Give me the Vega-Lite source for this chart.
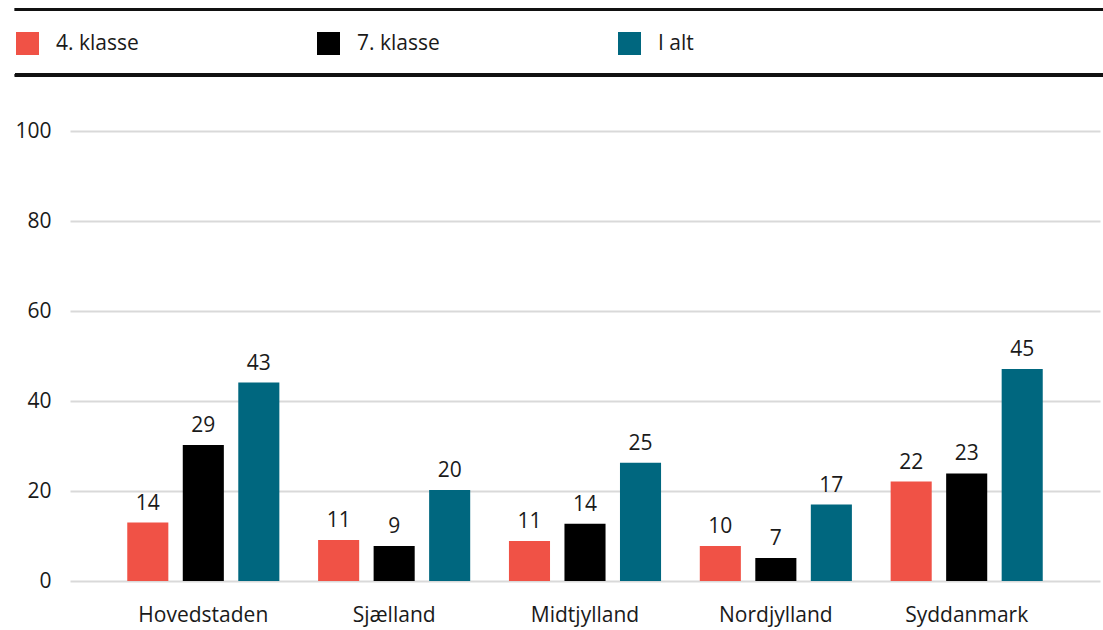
{
  "$schema": "https://vega.github.io/schema/vega-lite/v6.json",
  "width": 1030,
  "height": 450,
  "autosize": "none",
  "padding": {"left": 70, "top": 131, "right": 3, "bottom": 49},
  "background": "white",
  "config": {
    "font": "Open Sans",
    "view": {"stroke": null},
    "text": {"font": "Open Sans"}
  },
  "data": {
    "values": [
      {"Region": "Hovedstaden", "Klasse": "4. klasse", "value": 13.0, "label": "14"},
      {"Region": "Hovedstaden", "Klasse": "7. klasse", "value": 30.2, "label": "29"},
      {"Region": "Hovedstaden", "Klasse": "I alt", "value": 44.1, "label": "43"},
      {"Region": "Sjælland", "Klasse": "4. klasse", "value": 9.1, "label": "11"},
      {"Region": "Sjælland", "Klasse": "7. klasse", "value": 7.8, "label": "9"},
      {"Region": "Sjælland", "Klasse": "I alt", "value": 20.2, "label": "20"},
      {"Region": "Midtjylland", "Klasse": "4. klasse", "value": 8.9, "label": "11"},
      {"Region": "Midtjylland", "Klasse": "7. klasse", "value": 12.7, "label": "14"},
      {"Region": "Midtjylland", "Klasse": "I alt", "value": 26.3, "label": "25"},
      {"Region": "Nordjylland", "Klasse": "4. klasse", "value": 7.8, "label": "10"},
      {"Region": "Nordjylland", "Klasse": "7. klasse", "value": 5.1, "label": "7"},
      {"Region": "Nordjylland", "Klasse": "I alt", "value": 17.0, "label": "17"},
      {"Region": "Syddanmark", "Klasse": "4. klasse", "value": 22.1, "label": "22"},
      {"Region": "Syddanmark", "Klasse": "7. klasse", "value": 23.9, "label": "23"},
      {"Region": "Syddanmark", "Klasse": "I alt", "value": 47.1, "label": "45"}
    ]
  },
  "layer": [
    {
      "encoding": {
        "x": {
          "field": "Region",
          "type": "nominal",
          "sort": ["Hovedstaden", "Sjælland", "Midtjylland", "Nordjylland", "Syddanmark"],
          "scale": {"paddingInner": 0.203, "paddingOuter": 0.3},
          "axis": {
            "title": null,
            "domain": false,
            "ticks": false,
            "labelAngle": 0,
            "labelFontSize": 21,
            "labelColor": "#1a1a1a",
            "labelPadding": 23
          }
        },
        "xOffset": {
          "field": "Klasse",
          "type": "nominal",
          "sort": ["4. klasse", "7. klasse", "I alt"],
          "scale": {"paddingInner": 0.26, "paddingOuter": 0}
        },
        "y": {
          "field": "value",
          "type": "quantitative",
          "scale": {"domain": [0, 100], "nice": false},
          "axis": {
            "title": null,
            "domain": false,
            "ticks": false,
            "values": [0, 20, 40, 60, 80, 100],
            "labelFontSize": 21,
            "labelColor": "#1a1a1a",
            "labelPadding": 19,
            "gridColor": "#d9d9d9",
            "gridWidth": 2
          }
        }
      },
      "layer": [
        {
          "mark": {"type": "bar"},
          "encoding": {
            "color": {
              "field": "Klasse",
              "type": "nominal",
              "sort": ["4. klasse", "7. klasse", "I alt"],
              "scale": {
                "domain": ["4. klasse", "7. klasse", "I alt"],
                "range": ["#f05246", "#000000", "#00677f"]
              },
              "legend": {
                "title": null,
                "orient": "none",
                "legendX": -54,
                "legendY": -99,
                "direction": "horizontal",
                "symbolType": "square",
                "symbolSize": 529,
                "symbolStrokeWidth": 0,
                "symbolOpacity": 1,
                "labelFontSize": 21,
                "labelColor": "#1a1a1a",
                "labelOffset": 17,
                "columnPadding": 178,
                "labelLimit": 300
              }
            }
          }
        },
        {
          "mark": {"type": "text", "baseline": "alphabetic", "dy": -13, "fontSize": 21, "color": "#1a1a1a"},
          "encoding": {
            "text": {"field": "label", "type": "nominal"}
          }
        }
      ]
    },
    {
      "mark": {"type": "rule", "color": "#111111", "strokeWidth": 3},
      "encoding": {
        "y": {"datum": 127.0},
        "x": {"datum": 0, "type": "quantitative", "scale": {"domain": [0.0506, 0.9973]}, "axis": null},
        "x2": {"datum": 1}
      }
    },
    {
      "mark": {"type": "rule", "color": "#111111", "strokeWidth": 3},
      "encoding": {
        "y": {"datum": 112.4},
        "x": {"datum": 0, "type": "quantitative", "scale": {"domain": [0.0506, 0.9973]}, "axis": null},
        "x2": {"datum": 1}
      }
    }
  ],
  "resolve": {"scale": {"x": "independent"}}
}
